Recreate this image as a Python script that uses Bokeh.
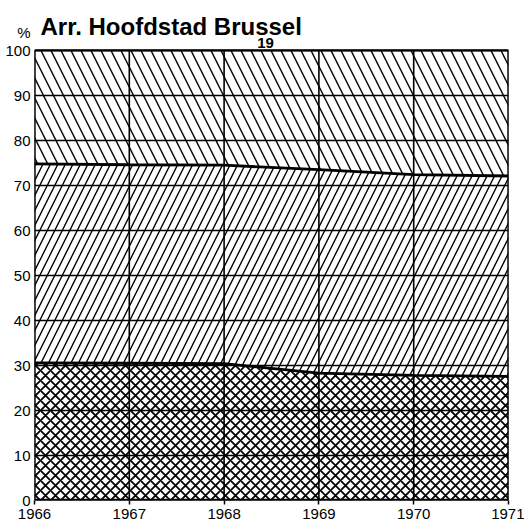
from bokeh.plotting import figure
from bokeh.models import Range1d, FixedTicker
from bokeh.core.properties import value
from bokeh.embed import file_html
from bokeh.resources import INLINE

years = [1966, 1967, 1968, 1969, 1970, 1971]
lower = [30.6, 30.5, 30.4, 28.3, 27.8, 27.6]
upper = [74.8, 74.6, 74.5, 73.5, 72.4, 72.1]
top = [100, 100, 100, 100, 100, 100]
base = [0, 0, 0, 0, 0, 0]
y_ticks = [0, 10, 20, 30, 40, 50, 60, 70, 80, 90, 100]
unit_tick = 104
title_text = "Arr. Hoofdstad Brussel"
unit_text = "%"
page_text = "19"

FONT = "Liberation Sans"

p = figure(frame_width=474, frame_height=500, output_backend="svg", toolbar_location=None,
           x_range=Range1d(1966, 1971), y_range=Range1d(0, 111.1))
p.min_border = 0
p.min_border_left = 34
p.min_border_right = 16
p.min_border_top = 0
p.background_fill_color = "white"
p.border_fill_color = "white"
p.outline_line_color = None
p.xgrid.visible = False
p.ygrid.visible = False

# hatched stacked areas
p.varea(x=years, y1=base, y2=lower, fill_alpha=0, hatch_pattern="diagonal_cross",
        hatch_color="black", hatch_weight=1.8, hatch_scale=10)
p.varea(x=years, y1=lower, y2=upper, fill_alpha=0, hatch_pattern="right_diagonal_line",
        hatch_color="black", hatch_weight=1.4, hatch_scale=15)
p.varea(x=years, y1=upper, y2=top, fill_alpha=0, hatch_pattern="left_diagonal_line",
        hatch_color="black", hatch_weight=1.4, hatch_scale=20)

# grid lines limited to the chart box
x_lo, x_hi = years[0], years[-1]
y_lo, y_hi = y_ticks[0], y_ticks[-1]
p.segment(x0=[x_lo] * len(y_ticks), x1=[x_hi] * len(y_ticks), y0=y_ticks, y1=y_ticks,
          line_color="black", line_width=1.6)
p.segment(x0=years, x1=years, y0=[y_lo] * len(years), y1=[y_hi] * len(years),
          line_color="black", line_width=1.6)
# outer box slightly heavier
p.segment(x0=[x_lo, x_hi, x_lo], x1=[x_lo, x_hi, x_hi], y0=[y_lo, y_lo, y_hi], y1=[y_hi, y_hi, y_hi],
          line_color="black", line_width=2.2)

p.line(years, lower, line_color="black", line_width=2.8)
p.line(years, upper, line_color="black", line_width=2.8)
p.line(years, base, line_color="black", line_width=3.5)

# axes
p.xaxis.ticker = FixedTicker(ticks=years)
p.yaxis.ticker = FixedTicker(ticks=y_ticks + [unit_tick])
p.yaxis.major_label_overrides = {unit_tick: unit_text}
for ax in (p.xaxis, p.yaxis):
    ax.axis_line_color = None
    ax.minor_tick_line_color = None
    ax.major_tick_in = 0
    ax.major_label_text_font = FONT
    ax.major_label_text_font_size = "15px"
    ax.major_label_text_color = "black"
    ax.major_tick_line_color = "black"
    ax.major_tick_line_width = 1.5
p.xaxis.major_tick_out = 4
p.xaxis.major_label_standoff = 4
p.yaxis.major_tick_out = 0
p.yaxis.major_label_standoff = 4

# title and page number
p.text(x=[1966.063], y=[105.3], text=[title_text], text_font=value(FONT),
       text_font_size="24px", text_font_style="bold", text_color="black",
       text_baseline="alphabetic", text_align="left")
p.text(x=[1968.35], y=[101.7], text=[page_text], text_font=value(FONT),
       text_font_size="15px", text_font_style="bold", text_color="black",
       text_baseline="alphabetic", text_align="left")

open("out.html", "w").write(file_html(p, INLINE))
